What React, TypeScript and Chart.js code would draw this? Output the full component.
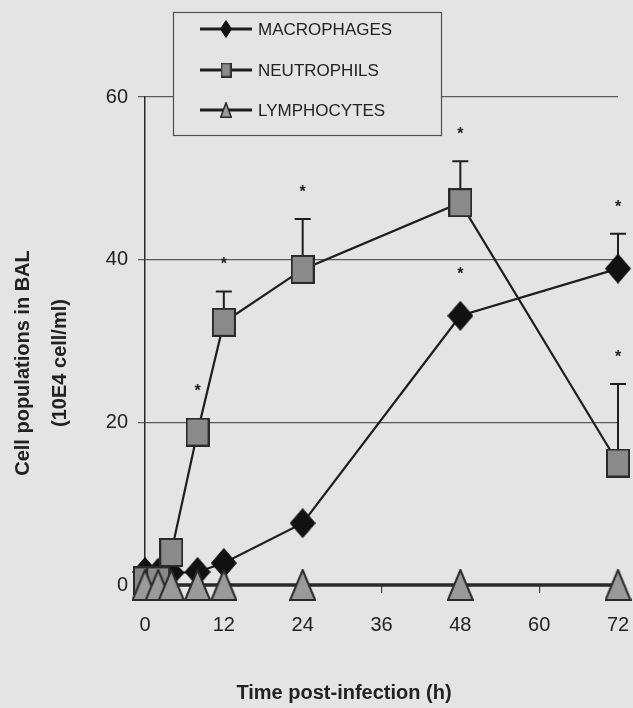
import React, { useEffect, useRef } from 'react';
import { Chart, registerables } from 'chart.js';

Chart.register(...registerables);

// Sampling times (hours post-infection)
const hours = [0, 2, 4, 8, 12, 24, 48, 72];

// Mean cell counts in BAL (10E4 cell/ml)
const macrophages = [1.6, 1.5, 1.5, 1.6, 2.7, 7.6, 33.1, 38.9];
const neutrophils = [0.5, 0.5, 4.0, 18.8, 32.3, 38.8, 47.0, 15.0];
const lymphocytes = [0, 0, 0, 0, 0, 0, 0, 0];

// Upper error bars (SD)
const macrophagesSd = [0, 0, 0, 0, 0, 0, 0, 4.3];
const neutrophilsSd = [0, 0, 0, 0, 3.8, 6.2, 5.1, 9.7];

// Significance flags (asterisks)
const macrophagesSig = [false, false, false, false, false, false, true, true];
const neutrophilsSig = [false, false, false, true, true, true, true, true];

const xTicks = [0, 12, 24, 36, 48, 60, 72];
const yTicks = [0, 20, 40, 60];

const seriesLabels = ['MACROPHAGES', 'NEUTROPHILS', 'LYMPHOCYTES'];
const yTitle = ['Cell populations in BAL', '(10E4 cell/ml)'];
const xTitle = 'Time post-infection (h)';

const BG = '#e4e4e4';
const INK = '#1e1e1e';
const FONT = "'Liberation Sans', Arial, sans-serif";

type Shape = 'diamond' | 'square' | 'triangle';

function makeMarker(shape: Shape, w: number, h: number, fill: string, stroke: string, lw: number) {
  const c = document.createElement('canvas');
  c.width = w;
  c.height = h;
  const ctx = c.getContext('2d')!;
  const p = lw / 2;
  ctx.beginPath();
  if (shape === 'diamond') {
    ctx.moveTo(w / 2, p);
    ctx.lineTo(w - p, h / 2);
    ctx.lineTo(w / 2, h - p);
    ctx.lineTo(p, h / 2);
  } else if (shape === 'square') {
    ctx.rect(p, p, w - 2 * p, h - 2 * p);
  } else {
    ctx.moveTo(w / 2, p);
    ctx.lineTo(w - p, h - p);
    ctx.lineTo(p, h - p);
  }
  ctx.closePath();
  ctx.fillStyle = fill;
  ctx.fill();
  if (lw > 0) {
    ctx.lineWidth = lw;
    ctx.strokeStyle = stroke;
    ctx.stroke();
  }
  return c;
}

const pts = (ys: number[]) => hours.map((h, i) => ({ x: h, y: ys[i] }));

export default function App() {
  const ref = useRef<HTMLCanvasElement | null>(null);

  useEffect(() => {
    const canvas = ref.current;
    if (!canvas) return;

    const diamond = makeMarker('diamond', 26, 30, '#111111', '#111111', 1);
    const square = makeMarker('square', 24, 29, '#8a8a8a', '#2a2a2a', 2);
    const triangle = makeMarker('triangle', 27, 32, '#9a9a9a', '#2a2a2a', 2);

    const legendMarkers = [
      makeMarker('diamond', 12, 18, '#111111', '#111111', 1),
      makeMarker('square', 11, 15, '#8a8a8a', '#2a2a2a', 1.5),
      makeMarker('triangle', 12, 16, '#9a9a9a', '#2a2a2a', 1.5),
    ];

    const sds = [macrophagesSd, neutrophilsSd, null];
    const sigs = [macrophagesSig, neutrophilsSig, null];
    const markerHalf = [15, 14.5, 16];

    const background = {
      id: 'paper',
      beforeDraw(chart: any) {
        const { ctx, width, height } = chart;
        ctx.save();
        ctx.fillStyle = BG;
        ctx.fillRect(0, 0, width, height);
        ctx.restore();
      },
    };

    const errorBars = {
      id: 'errorBars',
      beforeDatasetsDraw(chart: any) {
        const { ctx } = chart;
        const xs = chart.scales.x;
        const ys = chart.scales.y;
        ctx.save();
        ctx.strokeStyle = INK;
        ctx.lineWidth = 2;
        sds.forEach((sd, d) => {
          if (!sd) return;
          const vals = chart.data.datasets[d].data as { x: number; y: number }[];
          vals.forEach((p, i) => {
            if (!sd[i]) return;
            const x = xs.getPixelForValue(p.x);
            const y0 = ys.getPixelForValue(p.y);
            const y1 = ys.getPixelForValue(p.y + sd[i]);
            ctx.beginPath();
            ctx.moveTo(x, y0);
            ctx.lineTo(x, y1);
            ctx.moveTo(x - 8, y1);
            ctx.lineTo(x + 8, y1);
            ctx.stroke();
          });
        });
        ctx.restore();
      },
      afterDatasetsDraw(chart: any) {
        const { ctx } = chart;
        const xs = chart.scales.x;
        const ys = chart.scales.y;
        ctx.save();
        ctx.fillStyle = INK;
        ctx.font = `bold 16px ${FONT}`;
        ctx.textAlign = 'center';
        ctx.textBaseline = 'alphabetic';
        sigs.forEach((sig, d) => {
          if (!sig) return;
          const vals = chart.data.datasets[d].data as { x: number; y: number }[];
          const sd = sds[d]!;
          vals.forEach((p, i) => {
            if (!sig[i]) return;
            const x = xs.getPixelForValue(p.x);
            const top = Math.min(
              ys.getPixelForValue(p.y + sd[i]),
              ys.getPixelForValue(p.y) - markerHalf[d]
            );
            ctx.fillText('*', x, top - 31 + 9);
          });
        });
        ctx.restore();
      },
    };

    const annotations = {
      id: 'annotations',
      afterDraw(chart: any) {
        const { ctx } = chart;
        ctx.save();
        // legend box
        ctx.fillStyle = BG;
        ctx.fillRect(173, 12, 268, 123);
        ctx.strokeStyle = '#505050';
        ctx.lineWidth = 1.2;
        ctx.strokeRect(173.5, 12.5, 268, 123);
        const rows = [29, 70, 110];
        seriesLabels.forEach((label, i) => {
          const y = rows[i];
          ctx.strokeStyle = INK;
          ctx.lineWidth = 3;
          ctx.beginPath();
          ctx.moveTo(200, y);
          ctx.lineTo(252, y);
          ctx.stroke();
          const m = legendMarkers[i];
          ctx.drawImage(m, 226 - m.width / 2, y - m.height / 2);
          ctx.fillStyle = '#222';
          ctx.font = `17px ${FONT}`;
          ctx.textAlign = 'left';
          ctx.textBaseline = 'middle';
          ctx.fillText(label, 258, y + 1);
        });

        // axis titles
        ctx.fillStyle = '#222';
        ctx.font = `bold 20px ${FONT}`;
        ctx.textAlign = 'center';
        ctx.textBaseline = 'middle';
        ctx.fillText(xTitle, 344, 693);
        ctx.save();
        ctx.translate(23, 363);
        ctx.rotate(-Math.PI / 2);
        ctx.fillText(yTitle[0], 0, 0);
        ctx.restore();
        ctx.save();
        ctx.translate(60, 363);
        ctx.rotate(-Math.PI / 2);
        ctx.fillText(yTitle[1], 0, 0);
        ctx.restore();
        ctx.restore();
      },
    };

    const chart = new Chart(canvas, {
      type: 'line',
      data: {
        datasets: [
          {
            label: seriesLabels[0],
            data: pts(macrophages),
            borderColor: INK,
            borderWidth: 2.2,
            pointStyle: diamond as any,
            order: 2,
            clip: false as any,
          },
          {
            label: seriesLabels[1],
            data: pts(neutrophils),
            borderColor: INK,
            borderWidth: 2.2,
            pointStyle: square as any,
            order: 1,
            clip: false as any,
          },
          {
            label: seriesLabels[2],
            data: pts(lymphocytes),
            borderColor: '#2a2a2a',
            borderWidth: 3.5,
            pointStyle: triangle as any,
            order: 0,
            clip: false as any,
          },
        ],
      },
      options: {
        responsive: false,
        animation: false,
        events: [],
        layout: { padding: { left: 0, top: 97, right: 15, bottom: 0 } },
        plugins: {
          legend: { display: false },
          tooltip: { enabled: false },
        },
        elements: { line: { tension: 0 } },
        scales: {
          x: {
            type: 'linear',
            min: 0,
            max: 72,
            afterBuildTicks: (s: any) => {
              s.ticks = xTicks.map((v) => ({ value: v }));
            },
            afterFit: (s: any) => {
              s.height = 123;
              s.paddingLeft = 0;
              s.paddingRight = 0;
            },
            ticks: {
              autoSkip: false,
              maxRotation: 0,
              color: '#222',
              padding: 20,
              font: { family: FONT, size: 20 },
            },
            grid: {
              drawOnChartArea: false,
              drawTicks: true,
              tickLength: 8,
              color: '#444',
              lineWidth: 1.2,
            },
            border: { display: true, color: '#333', width: 1 },
          },
          y: {
            type: 'linear',
            min: 0,
            max: 60,
            afterBuildTicks: (s: any) => {
              s.ticks = yTicks.map((v) => ({ value: v }));
            },
            afterFit: (s: any) => {
              s.width = 145;
              s.paddingTop = 0;
              s.paddingBottom = 0;
            },
            ticks: {
              color: '#222',
              padding: 10,
              font: { family: FONT, size: 20 },
            },
            grid: {
              color: '#5a5a5a',
              lineWidth: 1.2,
              tickLength: 7,
            },
            border: { display: true, color: '#2a2a2a', width: 1.5 },
          },
        },
      },
      plugins: [background, errorBars, annotations],
    });

    return () => chart.destroy();
  }, []);

  return (
    <div
      style={{
        position: 'fixed',
        left: 0,
        top: 0,
        width: 633,
        height: 708,
        background: BG,
      }}
    >
      <canvas ref={ref} width={633} height={708} style={{ display: 'block' }} />
    </div>
  );
}
